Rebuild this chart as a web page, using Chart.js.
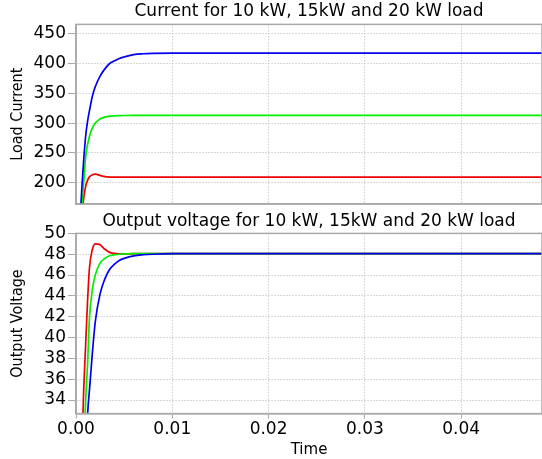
<!DOCTYPE html>
<html>
<head>
<meta charset="utf-8">
<script src="https://cdn.jsdelivr.net/npm/chart.js@4/dist/chart.umd.min.js"></script>
<style>
  body { margin: 0; background: #fff; }
  .box { position: relative; width: 542px; }
  #top { height: 210px; }
  #bottom { height: 249px; }
</style>
</head>
<body>
<div class="box" id="top"><canvas id="currentChart"></canvas></div>
<div class="box" id="bottom"><canvas id="voltageChart"></canvas></div>
<script>
// time samples (s)
var time = [0, 0.0004, 0.0006, 0.0008, 0.001, 0.0012, 0.0014, 0.0017, 0.002, 0.0025, 0.003, 0.0035, 0.004, 0.0045, 0.005, 0.006, 0.007, 0.008, 0.01, 0.02, 0.03, 0.04, 0.0484];

// load current
var current10 = [0, 90, 140, 174, 194, 204, 210, 213.3, 214.4, 212.3, 210.3, 209.6, 209.5, 209.4, 209.4, 209.5, 209.5, 209.5, 209.5, 209.5, 209.5, 209.5, 209.5];
var current15 = [0, 110, 158, 200, 243, 264, 278, 292, 300, 307, 310, 311.7, 312.2, 312.6, 312.8, 313, 313, 313, 313, 313, 313, 313, 313];
var current20 = [0, 130, 190, 238, 278, 303, 321, 345, 361, 379, 391, 400, 404.5, 408.5, 411, 415, 416.4, 417, 417.5, 417.5, 417.5, 417.5, 417.5];

// output voltage
var voltage10 = [0, 20, 29, 35, 39.3, 43.5, 46.7, 48.45, 49.0, 48.9, 48.48, 48.18, 48.08, 48.03, 48.02, 48.05, 48.05, 48.05, 48.05, 48.05, 48.05, 48.05, 48.05];
var voltage15 = [0, 12, 20, 28.5, 33.9, 37.4, 41.9, 44.6, 46.0, 47.15, 47.6, 47.85, 47.95, 48.0, 48.02, 48.05, 48.05, 48.05, 48.05, 48.05, 48.05, 48.05, 48.05];
var voltage20 = [0, 8, 14, 20, 27, 32.5, 35.0, 38.5, 41.5, 44.2, 45.63, 46.55, 47.05, 47.4, 47.6, 47.85, 47.95, 48.0, 48.05, 48.05, 48.05, 48.05, 48.05];

// tick labels
var timeTicks = [0, 0.01, 0.02, 0.03, 0.04];
var currentTicks = [200, 250, 300, 350, 400, 450];
var voltageTicks = [34, 36, 38, 40, 42, 44, 46, 48, 50];

var seriesNames = ['10 kW', '15 kW', '20 kW'];
var seriesColors = ['#ee0000', '#00ee00', '#0000ee'];

function pts(vals) {
  return time.map(function(t, i) { return {x: t, y: vals[i]}; });
}

// 20 kW gets the lowest order so it is drawn on top
function makeSets(list) {
  return list.map(function(vals, i) {
    return {
      label: seriesNames[i],
      data: pts(vals),
      order: 3 - i,
      borderColor: seriesColors[i],
      borderWidth: 1.7,
      pointRadius: 0,
      cubicInterpolationMode: 'monotone',
      fill: false
    };
  });
}

var FONT = "'DejaVu Sans', Verdana, sans-serif";
Chart.defaults.font.family = FONT;
Chart.defaults.color = '#000';

// box round the plot area
var frame = {
  id: 'frame',
  afterDraw: function(chart) {
    var a = chart.chartArea, c = chart.ctx;
    c.save();
    c.strokeStyle = '#a8a8a8';
    c.lineWidth = 1.5;
    c.strokeRect(a.left, a.top, a.right - a.left, a.bottom - a.top);
    c.restore();
  }
};

function setTicks(list) {
  return function(scale) {
    scale.ticks = list.map(function(v) { return {value: v}; });
  };
}

function makeChart(id, sets, title, yTitle, yMin, yMax, yTicks, showX, pad) {
  return new Chart(id, {
    type: 'line',
    data: { datasets: sets },
    plugins: [frame],
    options: {
      responsive: true,
      maintainAspectRatio: false,
      animation: false,
      layout: { padding: pad },
      plugins: {
        legend: { display: false },
        tooltip: { enabled: false },
        title: {
          display: true,
          text: title,
          fullSize: false,
          color: '#000',
          font: { size: 17, weight: 'normal' },
          padding: { top: 1, bottom: showX ? 2 : 3 }
        }
      },
      scales: {
        x: {
          type: 'linear',
          min: 0,
          max: 0.0484,
          border: { color: '#a8a8a8', width: 1.5, dash: [1, 2] },
          grid: { color: '#b4b4b4', drawTicks: showX, tickLength: 5, tickColor: '#a8a8a8', tickBorderDash: [] },
          afterBuildTicks: setTicks(timeTicks),
          afterFit: function(scale) { if (!showX) scale.height = 0; },
          ticks: {
            display: showX,
            autoSkip: false,
            maxRotation: 0,
            padding: 1,
            font: { size: 17 },
            callback: function(v) { return v.toFixed(2); }
          },
          title: {
            display: showX,
            text: 'Time',
            font: { size: 15 },
            padding: { top: 0, bottom: 0 }
          }
        },
        y: {
          min: yMin,
          max: yMax,
          border: { color: '#a8a8a8', width: 1.5, dash: [1, 2] },
          grid: { color: '#b4b4b4', tickLength: 8, tickColor: '#a8a8a8', tickBorderDash: [] },
          afterBuildTicks: setTicks(yTicks),
          ticks: {
            autoSkip: false,
            padding: 2,
            font: { size: 17 }
          },
          title: {
            display: true,
            text: yTitle,
            font: { family: "'DejaVu Sans Condensed', 'DejaVu Sans', sans-serif", size: 16 },
            padding: { top: 8, bottom: 0 }
          },
          afterFit: function(scale) {
            scale.width = 76;
            scale.paddingBottom = 0;
          }
        }
      }
    }
  });
}

makeChart('currentChart', makeSets([current10, current15, current20]),
  'Current for 10 kW, 15kW and 20 kW load', 'Load Current',
  164.4, 465.6, currentTicks, false, { left: 0, right: 0, top: 0, bottom: 6 });

makeChart('voltageChart', makeSets([voltage10, voltage15, voltage20]),
  'Output voltage for 10 kW, 15kW and 20 kW load', 'Output Voltage',
  32.7, 50, voltageTicks, true, { left: 0, right: 0, top: 0, bottom: 0 });
</script>
</body>
</html>
